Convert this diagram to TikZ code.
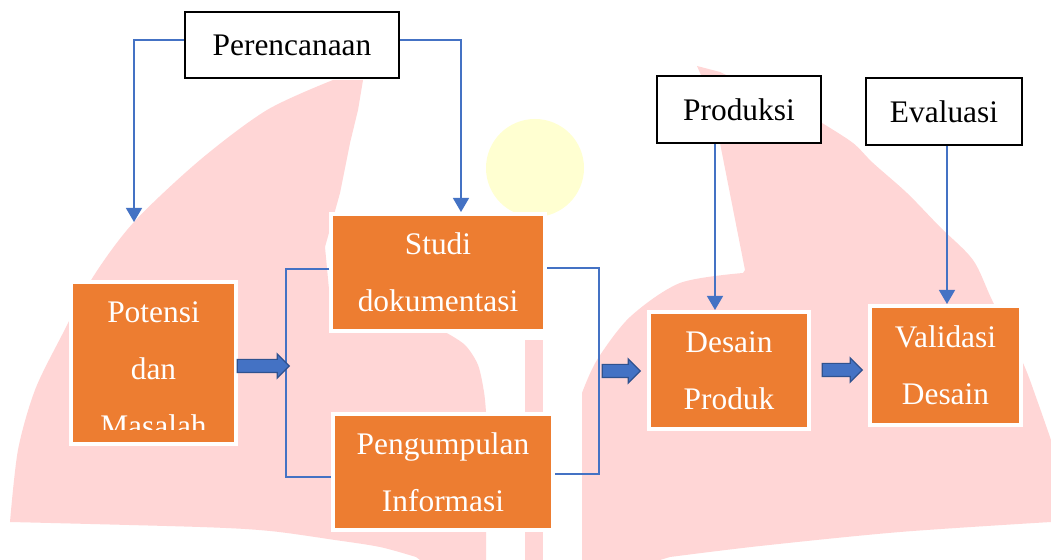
\documentclass[tikz,border=0pt]{standalone}
\usepackage{fontspec}
\setmainfont{Liberation Serif}
\usetikzlibrary{shapes.arrows,arrows.meta}
\definecolor{boxorange}{HTML}{ED7D31}
\definecolor{linkblue}{HTML}{4472C4}
\definecolor{arrowedge}{HTML}{2F528F}
\definecolor{wmpink}{RGB}{255,214,214}
\definecolor{wmyellow}{RGB}{255,255,209}

\begin{document}
\begin{tikzpicture}[x=0.5pt,y=-0.5pt,
  phasebox/.style={rectangle,draw=black,line width=1pt,fill=white,inner sep=0pt,
                   font=\fontsize{15.7}{18}\selectfont},
  stagebox/.style={rectangle,draw=white,line width=2pt,fill=boxorange,inner sep=0pt,
                   text=white,align=center,font=\fontsize{15.7}{28.5}\selectfont},
  stagetext/.style={text=white,align=center,inner sep=0pt,font=\fontsize{15.7}{28.5}\selectfont},
  conn/.style={draw=linkblue,line width=0.7pt,-{Triangle[width=8pt,length=7pt]}},
  bracket/.style={draw=linkblue,line width=0.7pt},
  blockarr/.style={single arrow,draw=arrowedge,fill=linkblue,line width=0.6pt,
                   inner xsep=0pt,inner ysep=3pt,minimum height=26pt,
                   single arrow head extend=2.75pt},
]

% Background and watermark
\fill[white] (0,0) rectangle (1051,560);
\path[use as bounding box] (0,0) rectangle (1051,560);
\fill[wmpink] (363,80) -- (358,110) -- (350,143) -- (340,193) -- (325,247) -- (330,300) -- (440,331)
  -- plot[smooth] coordinates {(445,332) (465,345) (478,365) (484,392) (486,412)}
  -- (486,560) -- (420,560)
  -- plot[smooth] coordinates {(416,557) (380,547) (335,540) (270,531) (200,527) (10,522)}
  -- plot[smooth] coordinates {(10,522) (18,450) (35,390) (62,335) (93,277) (134,222) (200,160) (267,110) (333,80)}
  -- cycle;
\fill[wmpink] (525,340) rectangle (543,560);
\fill[wmpink] (697,66) -- (720,72) -- (822,123)
  -- plot[smooth] coordinates {(822,123) (853,143) (873,163) (907,193) (940,227) (973,260) (992,300) (1023,363) (1037,400) (1051,440)}
  -- (1051,522)
  -- plot[smooth] coordinates {(1051,522) (900,532) (760,546) (670,557)}
  -- (660,560) -- (582,560) -- (582,393)
  -- plot[smooth] coordinates {(582,393) (597,360) (630,317) (680,283) (743,273)}
  -- (745,270) -- (720,143) -- (712,100) -- cycle;
\fill[wmyellow] (535,168) circle[radius=49];

% Phases
\node[phasebox,minimum width=107pt,minimum height=33pt] (plan) at (292,45) {Perencanaan};
\node[phasebox,minimum width=82pt,minimum height=33.5pt] (prod) at (739,109.5) {Produksi};
\node[phasebox,minimum width=78pt,minimum height=33.5pt] (eval) at (944,111.5) {Evaluasi};

% Stages
\node[stagebox,minimum width=82.5pt,minimum height=81pt] (potensi) at (153.5,363) {};
\begin{scope}
  \clip (75,286) rectangle (232,430);
  \node[stagetext] (potensitext) at (153.5,369.3) {Potensi\\dan\\Masalah};
\end{scope}
\node[stagebox,minimum width=107pt,minimum height=58.5pt] (studi) at (438,272.5) {Studi\\dokumentasi};
\node[stagebox,minimum width=110pt,minimum height=58pt] (kumpul) at (443,472) {Pengumpulan\\Informasi};
\node[stagebox,minimum width=80pt,minimum height=58.5pt] (desain) at (729,370.5) {Desain\\Produk};
\node[stagebox,minimum width=75.5pt,minimum height=59.5pt] (validasi) at (945.5,365.5) {Validasi\\Desain};

% Thin connectors
\coordinate (planleft) at (134,222);
\draw[conn] ([yshift=2.5pt]plan.west) -| (planleft);
\draw[conn] ([yshift=2.5pt]plan.east) -| ([xshift=11.5pt]studi.north);
\draw[conn] ([xshift=-12pt]prod.south) -- ([xshift=-12pt]prod.south |- desain.north);
\draw[conn] ([xshift=1.5pt]eval.south) -- ([xshift=1.5pt]eval.south |- validasi.north);

% Brackets
\coordinate (joinleft) at (286,366);
\coordinate (joinright) at (599,371);
\draw[bracket] ([yshift=1.75pt]studi.west) -| (joinleft) |- ([yshift=-2.5pt]kumpul.west);
\draw[bracket] ([yshift=2.25pt]studi.east) -| (joinright) |- ([yshift=-1pt]kumpul.east);

% Block arrows
\node[blockarr] (arrA) at (260,366) {};
\node[blockarr,minimum height=19pt] (arrB) at (618,371) {};
\node[blockarr,minimum height=20pt] (arrC) at (839,370) {};

\end{tikzpicture}
\end{document}
